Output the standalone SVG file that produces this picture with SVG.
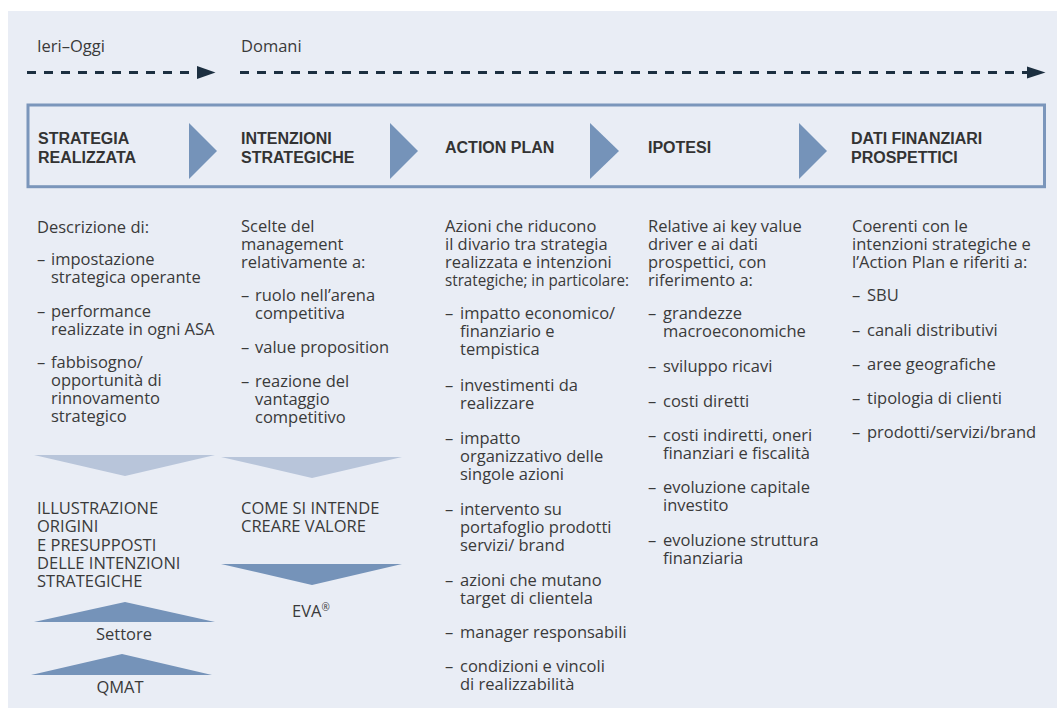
<svg xmlns="http://www.w3.org/2000/svg" width="1057" height="708" viewBox="0 0 1057 708">
<style>
.t{font-family:"Open Sans","Noto Sans","Liberation Sans",sans-serif;font-size:16.5px;fill:#3a3a3a}
.h{font-family:"Liberation Sans","Open Sans",sans-serif;font-size:16px;font-weight:bold;fill:#333}
.c{text-anchor:middle}
.dash{stroke:#1c2f40;stroke-width:3;stroke-dasharray:9 8;fill:none}
.ah{fill:#1c2f40}
.chev{fill:#7593b9}
.lt{fill:#b8c5da}
.dk{fill:#7593b9}
</style>
<rect x="0" y="0" width="1057" height="708" fill="#ffffff"/>
<rect x="8" y="11" width="1049" height="697" fill="#e9edf5"/>

<g id="timeline">
<text class="t" x="37" y="52">Ieri–Oggi</text>
<text class="t" x="241" y="52">Domani</text>
</g>

<g id="connectors">
<line class="dash" x1="27" y1="72.5" x2="198" y2="72.5"/>
<polygon class="ah" points="197,66 215.5,72.5 197,79"/>
<line class="dash" x1="240" y1="72.5" x2="1028" y2="72.5"/>
<polygon class="ah" points="1027,66.5 1045.5,72.5 1027,78.5"/>
<polygon class="chev" points="189,123 217,151 189,179"/>
<polygon class="chev" points="390,123 418,151 390,179"/>
<polygon class="chev" points="590,123 619,151 590,179"/>
<polygon class="chev" points="799,123 827,151 799,179"/>
<polygon class="lt" points="34,455 215,455 125,476"/>
<polygon class="lt" points="221,457 402,457 312,478"/>
<polygon class="dk" points="221,564 402,564 312,585"/>
<polygon class="dk" points="34,622 215,622 125,602"/>
<polygon class="dk" points="31,675 212,675 122,654"/>
</g>

<rect id="header-box" x="28" y="105" width="1016.5" height="81.7" fill="none" stroke="#7b96bb" stroke-width="3"/>

<g id="col1">
<text class="h" x="38" y="144">STRATEGIA</text>
<text class="h" x="38" y="163">REALIZZATA</text>
<text class="t" x="37" y="233">Descrizione di:</text>
<text class="t" y="265"><tspan x="37">–</tspan><tspan x="51">impostazione</tspan></text>
<text class="t" x="51" y="283">strategica operante</text>
<text class="t" y="317"><tspan x="37">–</tspan><tspan x="51">performance</tspan></text>
<text class="t" x="51" y="335">realizzate in ogni ASA</text>
<text class="t" y="368"><tspan x="37">–</tspan><tspan x="51">fabbisogno/</tspan></text>
<text class="t" x="51" y="386">opportunità di</text>
<text class="t" x="51" y="404">rinnovamento</text>
<text class="t" x="51" y="422">strategico</text>
</g>

<g id="col1-lower">
<text class="t" x="37" y="514">ILLUSTRAZIONE</text>
<text class="t" x="37" y="532">ORIGINI</text>
<text class="t" x="37" y="551">E PRESUPPOSTI</text>
<text class="t" x="37" y="569">DELLE INTENZIONI</text>
<text class="t" x="37" y="587">STRATEGICHE</text>
<text class="t c" x="124" y="640">Settore</text>
<text class="t c" x="120" y="693">QMAT</text>
</g>

<g id="col2">
<text class="h" x="241" y="144">INTENZIONI</text>
<text class="h" x="241" y="163">STRATEGICHE</text>
<text class="t" x="241" y="232">Scelte del</text>
<text class="t" x="241" y="250">management</text>
<text class="t" x="241" y="268">relativamente a:</text>
<text class="t" y="301"><tspan x="241">–</tspan><tspan x="255">ruolo nell’arena</tspan></text>
<text class="t" x="255" y="319">competitiva</text>
<text class="t" y="353"><tspan x="241">–</tspan><tspan x="255">value proposition</tspan></text>
<text class="t" y="387"><tspan x="241">–</tspan><tspan x="255">reazione del</tspan></text>
<text class="t" x="255" y="405">vantaggio</text>
<text class="t" x="255" y="423">competitivo</text>
</g>

<g id="col2-lower">
<text class="t" x="241" y="514">COME SI INTENDE</text>
<text class="t" x="241" y="532">CREARE VALORE</text>
<text class="t c" x="311" y="617">EVA<tspan font-size="10" dy="-6">®</tspan></text>
</g>

<g id="col3">
<text class="h" x="445" y="153">ACTION PLAN</text>
<text class="t" x="445" y="232">Azioni che riducono</text>
<text class="t" x="445" y="250">il divario tra strategia</text>
<text class="t" x="445" y="268">realizzata e intenzioni</text>
<text class="t" x="445" y="286" textLength="184" lengthAdjust="spacingAndGlyphs">strategiche; in particolare:</text>
<text class="t" y="319"><tspan x="445">–</tspan><tspan x="460">impatto economico/</tspan></text>
<text class="t" x="460" y="337">finanziario e</text>
<text class="t" x="460" y="355">tempistica</text>
<text class="t" y="391"><tspan x="445">–</tspan><tspan x="460">investimenti da</tspan></text>
<text class="t" x="460" y="409">realizzare</text>
<text class="t" y="444"><tspan x="445">–</tspan><tspan x="460">impatto</tspan></text>
<text class="t" x="460" y="462">organizzativo delle</text>
<text class="t" x="460" y="480">singole azioni</text>
<text class="t" y="515"><tspan x="445">–</tspan><tspan x="460">intervento su</tspan></text>
<text class="t" x="460" y="533">portafoglio prodotti</text>
<text class="t" x="460" y="551">servizi/ brand</text>
<text class="t" y="586"><tspan x="445">–</tspan><tspan x="460">azioni che mutano</tspan></text>
<text class="t" x="460" y="604">target di clientela</text>
<text class="t" y="638"><tspan x="445">–</tspan><tspan x="460">manager responsabili</tspan></text>
<text class="t" y="672"><tspan x="445">–</tspan><tspan x="460">condizioni e vincoli</tspan></text>
<text class="t" x="460" y="690">di realizzabilità</text>
</g>

<g id="col4">
<text class="h" x="648" y="153">IPOTESI</text>
<text class="t" x="648" y="232">Relative ai key value</text>
<text class="t" x="648" y="250">driver e ai dati</text>
<text class="t" x="648" y="268">prospettici, con</text>
<text class="t" x="648" y="286">riferimento a:</text>
<text class="t" y="319"><tspan x="648">–</tspan><tspan x="663">grandezze</tspan></text>
<text class="t" x="663" y="337">macroeconomiche</text>
<text class="t" y="372"><tspan x="648">–</tspan><tspan x="663">sviluppo ricavi</tspan></text>
<text class="t" y="407"><tspan x="648">–</tspan><tspan x="663">costi diretti</tspan></text>
<text class="t" y="441"><tspan x="648">–</tspan><tspan x="663">costi indiretti, oneri</tspan></text>
<text class="t" x="663" y="459">finanziari e fiscalità</text>
<text class="t" y="493"><tspan x="648">–</tspan><tspan x="663">evoluzione capitale</tspan></text>
<text class="t" x="663" y="511">investito</text>
<text class="t" y="546"><tspan x="648">–</tspan><tspan x="663">evoluzione struttura</tspan></text>
<text class="t" x="663" y="564">finanziaria</text>
</g>

<g id="col5">
<text class="h" x="851" y="144">DATI FINANZIARI</text>
<text class="h" x="851" y="163">PROSPETTICI</text>
<text class="t" x="852" y="232">Coerenti con le</text>
<text class="t" x="852" y="250">intenzioni strategiche e</text>
<text class="t" x="852" y="268">l’Action Plan e riferiti a:</text>
<text class="t" y="301"><tspan x="852">–</tspan><tspan x="867">SBU</tspan></text>
<text class="t" y="336"><tspan x="852">–</tspan><tspan x="867">canali distributivi</tspan></text>
<text class="t" y="370"><tspan x="852">–</tspan><tspan x="867">aree geografiche</tspan></text>
<text class="t" y="404"><tspan x="852">–</tspan><tspan x="867">tipologia di clienti</tspan></text>
<text class="t" y="438"><tspan x="852">–</tspan><tspan x="867">prodotti/servizi/brand</tspan></text>
</g>
</svg>
